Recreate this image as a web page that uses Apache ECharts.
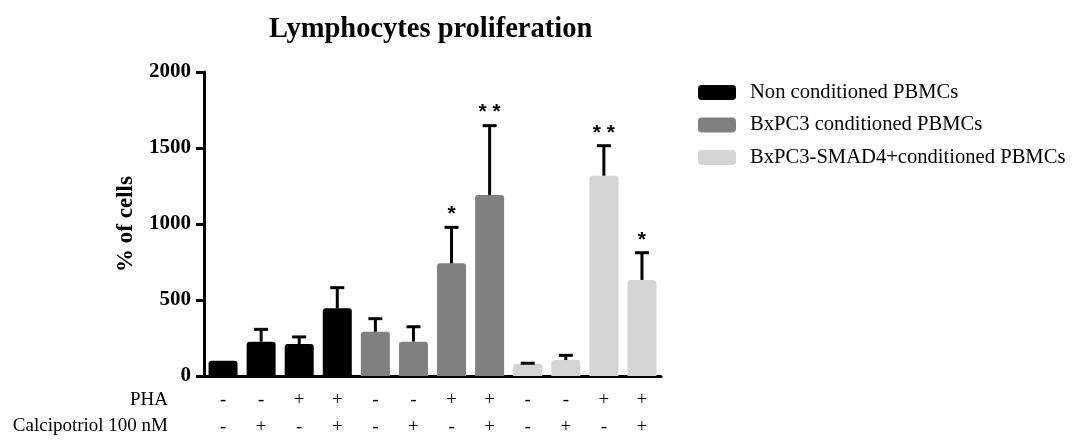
<!DOCTYPE html>
<html>
<head>
<meta charset="utf-8">
<script src="https://cdn.jsdelivr.net/npm/echarts@6/dist/echarts.min.js"></script>
<style>html,body{margin:0;padding:0;background:#fff}#c{width:1072px;height:441px}</style>
</head>
<body>
<div id="c"></div>
<script>
var categories = ['1','2','3','4','5','6','7','8','9','10','11','12'];
var phaLabels = ['-','-','+','+','-','-','+','+','-','-','+','+'];
var calciLabels = ['-','+','-','+','-','+','-','+','-','+','-','+'];
var seriesNames = ['Non conditioned PBMCs','BxPC3 conditioned PBMCs','BxPC3-SMAD4+conditioned PBMCs'];
var nonValues = [100, 226, 210, 445];
var bxValues = [291, 226, 741, 1191];
var smadValues = [80, 105, 1318, 632];
var nonErr = [0, 81, 47, 136];
var bxErr = [86, 98, 237, 456];
var smadErr = [4, 31, 197, 179];
var stars = ['', '', '', '', '', '', '*', '* *', '', '', '* *', '*'];
var colors = ['#000000', '#808080', '#d4d4d4'];

var groupValues = [nonValues, bxValues, smadValues];
var allValues = [].concat(nonValues, bxValues, smadValues);
var allErr = [].concat(nonErr, bxErr, smadErr);

var barSeries = groupValues.map(function (vals, g) {
  var data = categories.map(function (c, i) {
    var gi = Math.floor(i / 4);
    return gi === g ? vals[i % 4] : '-';
  });
  return {
    name: seriesNames[g],
    type: 'bar',
    data: data,
    barWidth: 29,
    barGap: '-100%',
    itemStyle: { color: colors[g], borderRadius: [3, 3, 0, 0] },
    z: 2
  };
});

var errData = categories.map(function (c, i) { return [i, allValues[i], allErr[i], stars[i]]; });

var errSeries = {
  type: 'custom',
  data: errData,
  z: 3,
  renderItem: function (params, api) {
    var x = api.value(0), v = api.value(1), e = api.value(2);
    var star = errData[params.dataIndex][3];
    var base = api.coord([x, v]);
    var top = api.coord([x, v + e]);
    var children = [];
    if (e > 0) {
      children.push({ type: 'line', shape: { x1: base[0], y1: base[1], x2: top[0], y2: top[1] }, style: { stroke: '#000', lineWidth: 3 } });
      children.push({ type: 'line', shape: { x1: top[0] - 7, y1: top[1], x2: top[0] + 7, y2: top[1] }, style: { stroke: '#000', lineWidth: 3 } });
    }
    if (star) {
      children.push({ type: 'text', style: { text: star, x: top[0], y: top[1] - 13, align: 'center', verticalAlign: 'middle', fill: '#000', font: 'bold 21px "Liberation Sans"' } });
    }
    return { type: 'group', children: children };
  }
};

var chart = echarts.init(document.getElementById('c'), null, { renderer: 'canvas' });
chart.setOption({
  animation: false,
  backgroundColor: '#fff',
  title: {
    text: 'Lymphocytes proliferation',
    left: 269, top: 15, padding: 0,
    textStyle: { fontFamily: 'Liberation Serif', fontWeight: 'bold', fontSize: 28.5, color: '#000' }
  },
  legend: {
    orient: 'vertical',
    left: 698, top: 82, padding: 0,
    itemWidth: 38, itemHeight: 15, itemGap: 11.5,
    data: seriesNames,
    textStyle: { fontFamily: 'Liberation Serif', fontSize: 20.6, color: '#000', lineHeight: 20.6, padding: [0, 0, 0, 9] }
  },
  grid: { left: 204, right: 411, top: 72, bottom: 65 },
  xAxis: {
    type: 'category',
    data: categories,
    axisLine: { lineStyle: { color: '#000', width: 3 } },
    axisTick: { show: false },
    axisLabel: {
      margin: 11,
      interval: 0,
      fontFamily: 'Liberation Serif', fontSize: 19, color: '#000', lineHeight: 27,
      formatter: function (v, i) { return phaLabels[i] + '\n' + calciLabels[i]; }
    }
  },
  yAxis: {
    type: 'value',
    min: 0, max: 2000, interval: 500,
    name: '% of cells',
    nameLocation: 'middle',
    nameGap: 66,
    nameTextStyle: { fontFamily: 'Liberation Serif', fontWeight: 'bold', fontSize: 23, color: '#000' },
    axisLine: { show: true, lineStyle: { color: '#000', width: 3 } },
    axisTick: { show: true, length: 8, lineStyle: { color: '#000', width: 3 } },
    splitLine: { show: false },
    axisLabel: {
      margin: 13, fontFamily: 'Liberation Serif', fontWeight: 'bold', fontSize: 21, color: '#000',
      formatter: function (v) { return String(v); }
    }
  },
  graphic: [
    { type: 'text', x: 168, y: 400, style: { text: 'PHA', align: 'right', verticalAlign: 'middle', font: '19px "Liberation Serif"', fill: '#000' } },
    { type: 'text', x: 168, y: 426, style: { text: 'Calcipotriol 100 nM', align: 'right', verticalAlign: 'middle', font: '19px "Liberation Serif"', fill: '#000' } }
  ],
  series: barSeries.concat([errSeries])
});
</script>
</body>
</html>
